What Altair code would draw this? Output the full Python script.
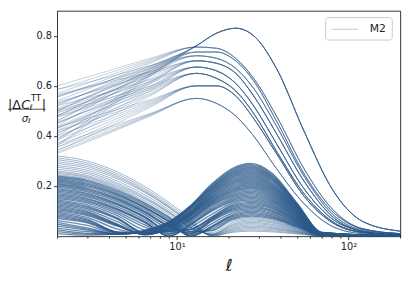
import altair as alt
import pandas as pd

COLOR = "#2c5a8a"

# ---------------- upper family: bundles (shared tails) with fanned heads ----
ELL_HEAD = [2, 4, 7]
ELL_TAIL = [13, 17, 22, 28, 38, 55, 80, 120, 200]

TAIL_A = [0.76, 0.81, 0.83, 0.80, 0.67, 0.42, 0.19, 0.06, 0.02]
TAIL_B = [0.755, 0.75, 0.71, 0.63, 0.48, 0.27, 0.11, 0.03, 0.01]
TAIL_C = [0.735, 0.735, 0.70, 0.62, 0.46, 0.25, 0.10, 0.03, 0.01]
TAIL_D = [0.72, 0.71, 0.67, 0.59, 0.44, 0.24, 0.09, 0.025, 0.01]
TAIL_E = [0.70, 0.69, 0.65, 0.56, 0.41, 0.22, 0.08, 0.02, 0.005]
TAIL_F = [0.675, 0.66, 0.61, 0.52, 0.37, 0.19, 0.07, 0.02, 0.005]
TAIL_G = [0.65, 0.63, 0.58, 0.49, 0.34, 0.17, 0.06, 0.015, 0.004]
TAIL_H = [0.60, 0.60, 0.56, 0.47, 0.33, 0.16, 0.055, 0.015, 0.004]
TAIL_I = [0.55, 0.53, 0.48, 0.40, 0.27, 0.13, 0.04, 0.01, 0.003]

HEADS_A = [[0.36, 0.51, 0.64], [0.38, 0.52, 0.645], [0.40, 0.53, 0.65], [0.44, 0.56, 0.66],
           [0.46, 0.57, 0.665], [0.48, 0.58, 0.67], [0.50, 0.595, 0.675], [0.52, 0.61, 0.68]]
HEADS_B = [[0.54, 0.62, 0.69], [0.555, 0.63, 0.695], [0.57, 0.64, 0.70], [0.585, 0.65, 0.705],
           [0.60, 0.66, 0.71]]
HEADS_C = [[0.46, 0.56, 0.64], [0.48, 0.575, 0.65], [0.50, 0.59, 0.66], [0.525, 0.605, 0.67],
           [0.555, 0.62, 0.68]]
HEADS_D = [[0.49, 0.575, 0.645], [0.51, 0.59, 0.655], [0.53, 0.60, 0.66], [0.56, 0.62, 0.67],
           [0.585, 0.635, 0.68]]
HEADS_E = [[0.42, 0.52, 0.61], [0.435, 0.53, 0.615], [0.45, 0.54, 0.62], [0.48, 0.56, 0.63],
           [0.505, 0.575, 0.64], [0.535, 0.595, 0.648], [0.565, 0.615, 0.655]]
HEADS_F = [[0.39, 0.495, 0.58], [0.41, 0.51, 0.588], [0.43, 0.52, 0.595], [0.45, 0.535, 0.60],
           [0.475, 0.55, 0.61], [0.50, 0.562, 0.618], [0.52, 0.575, 0.625]]
HEADS_G = [[0.37, 0.475, 0.56], [0.39, 0.49, 0.565], [0.41, 0.50, 0.57], [0.43, 0.515, 0.578],
           [0.455, 0.53, 0.585], [0.475, 0.54, 0.592], [0.495, 0.55, 0.60]]
HEADS_H = [[0.34, 0.435, 0.515], [0.355, 0.445, 0.52], [0.37, 0.455, 0.525], [0.385, 0.465, 0.53],
           [0.40, 0.475, 0.535], [0.42, 0.485, 0.54], [0.435, 0.495, 0.545]]
HEADS_I = [[0.33, 0.41, 0.48], [0.335, 0.415, 0.482], [0.345, 0.42, 0.485], [0.355, 0.428, 0.488],
           [0.365, 0.435, 0.49]]

BUNDLES = [
    (HEADS_A, TAIL_A), (HEADS_B, TAIL_B), (HEADS_C, TAIL_C), (HEADS_D, TAIL_D),
    (HEADS_E, TAIL_E), (HEADS_F, TAIL_F), (HEADS_G, TAIL_G), (HEADS_H, TAIL_H),
    (HEADS_I, TAIL_I),
]

# ---------------- lower family: |dC| that dips to zero and re-peaks ----------
ELL_LOW = [2, 3, 4.5, 6.5, 9, 12, 16, 21, 27, 36, 50, 70, 200]
# the widely spread top of the lower family (lighter in the picture)
LOW_TOP = [
    [0.32, 0.30, 0.256, 0.198, 0.134, 0.07, 0.0, 0.015, 0.02, 0.017, 0.009, 0.001, 0],
    [0.312, 0.292, 0.248, 0.19, 0.126, 0.062, 0.0, 0.018, 0.025, 0.021, 0.011, 0.001, 0],
    [0.305, 0.285, 0.241, 0.183, 0.119, 0.055, 0.003, 0.022, 0.03, 0.026, 0.014, 0.002, 0],
    [0.297, 0.278, 0.235, 0.178, 0.116, 0.053, 0.003, 0.026, 0.035, 0.03, 0.016, 0.002, 0],
    [0.29, 0.271, 0.229, 0.174, 0.113, 0.052, 0.004, 0.03, 0.04, 0.034, 0.018, 0.002, 0],
    [0.282, 0.263, 0.22, 0.165, 0.105, 0.044, 0.006, 0.034, 0.045, 0.038, 0.02, 0.002, 0],
    [0.275, 0.256, 0.212, 0.157, 0.098, 0.036, 0.008, 0.039, 0.05, 0.043, 0.023, 0.003, 0],
    [0.267, 0.249, 0.206, 0.152, 0.095, 0.035, 0.008, 0.043, 0.055, 0.047, 0.025, 0.003, 0],
    [0.26, 0.242, 0.20, 0.148, 0.092, 0.034, 0.009, 0.047, 0.06, 0.052, 0.028, 0.003, 0],
    [0.255, 0.237, 0.195, 0.141, 0.085, 0.026, 0.015, 0.053, 0.065, 0.056, 0.03, 0.003, 0],
    [0.25, 0.233, 0.19, 0.135, 0.078, 0.018, 0.021, 0.06, 0.07, 0.06, 0.032, 0.004, 0],
    [0.245, 0.228, 0.186, 0.132, 0.076, 0.017, 0.022, 0.064, 0.075, 0.064, 0.034, 0.004, 0],
]
# the dense core of the lower family
LOW_CORE = [
    [0.24, 0.223, 0.182, 0.13, 0.074, 0.017, 0.024, 0.068, 0.08, 0.069, 0.037, 0.004, 0],
    [0.235, 0.218, 0.176, 0.124, 0.067, 0.008, 0.03, 0.072, 0.085, 0.073, 0.039, 0.004, 0],
    [0.23, 0.212, 0.17, 0.117, 0.06, 0.0, 0.036, 0.077, 0.09, 0.077, 0.041, 0.005, 0],
    [0.225, 0.207, 0.166, 0.114, 0.058, 0.0, 0.038, 0.081, 0.095, 0.081, 0.043, 0.005, 0],
    [0.22, 0.202, 0.163, 0.112, 0.057, 0.0, 0.04, 0.085, 0.10, 0.086, 0.046, 0.005, 0],
    [0.215, 0.197, 0.157, 0.105, 0.048, 0.005, 0.05, 0.092, 0.105, 0.09, 0.048, 0.005, 0],
    [0.21, 0.191, 0.151, 0.098, 0.04, 0.011, 0.06, 0.099, 0.11, 0.095, 0.051, 0.006, 0],
    [0.205, 0.187, 0.148, 0.096, 0.039, 0.011, 0.063, 0.104, 0.115, 0.099, 0.053, 0.006, 0],
    [0.20, 0.182, 0.144, 0.093, 0.038, 0.012, 0.066, 0.108, 0.12, 0.103, 0.055, 0.006, 0],
    [0.195, 0.177, 0.138, 0.086, 0.03, 0.019, 0.069, 0.112, 0.125, 0.108, 0.058, 0.006, 0],
    [0.19, 0.171, 0.131, 0.078, 0.021, 0.026, 0.072, 0.117, 0.13, 0.112, 0.06, 0.007, 0],
    [0.185, 0.167, 0.128, 0.076, 0.02, 0.027, 0.075, 0.121, 0.135, 0.116, 0.062, 0.007, 0],
    [0.18, 0.162, 0.124, 0.074, 0.02, 0.028, 0.077, 0.126, 0.14, 0.12, 0.064, 0.007, 0],
    [0.175, 0.157, 0.117, 0.066, 0.01, 0.036, 0.088, 0.132, 0.145, 0.125, 0.066, 0.007, 0],
    [0.17, 0.151, 0.11, 0.058, 0.0, 0.045, 0.10, 0.138, 0.15, 0.129, 0.069, 0.008, 0],
    [0.165, 0.147, 0.107, 0.056, 0.0, 0.046, 0.104, 0.142, 0.155, 0.134, 0.071, 0.008, 0],
    [0.16, 0.142, 0.104, 0.054, 0.0, 0.048, 0.109, 0.147, 0.16, 0.138, 0.074, 0.008, 0],
    [0.155, 0.137, 0.097, 0.045, 0.006, 0.054, 0.115, 0.152, 0.165, 0.142, 0.076, 0.008, 0],
    [0.15, 0.132, 0.09, 0.036, 0.012, 0.06, 0.122, 0.158, 0.17, 0.146, 0.078, 0.009, 0],
    [0.145, 0.125, 0.082, 0.025, 0.017, 0.064, 0.126, 0.162, 0.175, 0.15, 0.08, 0.009, 0],
    [0.14, 0.119, 0.073, 0.014, 0.022, 0.068, 0.13, 0.167, 0.18, 0.155, 0.083, 0.009, 0],
    [0.135, 0.115, 0.07, 0.013, 0.022, 0.07, 0.133, 0.172, 0.185, 0.159, 0.085, 0.009, 0],
    [0.13, 0.11, 0.068, 0.013, 0.023, 0.072, 0.137, 0.177, 0.19, 0.163, 0.087, 0.01, 0],
    [0.125, 0.104, 0.058, 0.009, 0.026, 0.076, 0.14, 0.181, 0.195, 0.168, 0.09, 0.01, 0],
    [0.12, 0.098, 0.048, 0.006, 0.03, 0.08, 0.144, 0.186, 0.20, 0.172, 0.092, 0.01, 0],
    [0.115, 0.094, 0.046, 0.006, 0.031, 0.082, 0.147, 0.19, 0.205, 0.176, 0.094, 0.01, 0],
    [0.11, 0.09, 0.044, 0.006, 0.032, 0.084, 0.151, 0.195, 0.21, 0.181, 0.097, 0.011, 0],
    [0.105, 0.086, 0.042, 0.006, 0.032, 0.086, 0.155, 0.2, 0.215, 0.185, 0.099, 0.011, 0],
    [0.10, 0.082, 0.04, 0.007, 0.033, 0.088, 0.158, 0.205, 0.22, 0.189, 0.101, 0.011, 0],
    [0.095, 0.075, 0.028, 0.009, 0.037, 0.09, 0.162, 0.21, 0.225, 0.194, 0.104, 0.011, 0],
    [0.09, 0.068, 0.017, 0.012, 0.041, 0.092, 0.166, 0.214, 0.23, 0.198, 0.106, 0.012, 0],
    [0.085, 0.064, 0.016, 0.012, 0.042, 0.094, 0.17, 0.219, 0.235, 0.202, 0.108, 0.012, 0],
    [0.08, 0.06, 0.015, 0.012, 0.043, 0.096, 0.173, 0.223, 0.24, 0.206, 0.11, 0.012, 0],
    [0.075, 0.056, 0.014, 0.012, 0.044, 0.098, 0.176, 0.228, 0.245, 0.21, 0.112, 0.012, 0],
    [0.07, 0.053, 0.013, 0.013, 0.045, 0.10, 0.18, 0.233, 0.25, 0.215, 0.115, 0.013, 0],
    [0.062, 0.043, 0.01, 0.015, 0.048, 0.104, 0.183, 0.237, 0.255, 0.22, 0.117, 0.013, 0],
    [0.055, 0.033, 0.008, 0.018, 0.052, 0.109, 0.187, 0.242, 0.26, 0.224, 0.12, 0.013, 0],
    [0.048, 0.028, 0.008, 0.018, 0.053, 0.111, 0.19, 0.246, 0.265, 0.228, 0.122, 0.013, 0],
    [0.04, 0.024, 0.008, 0.019, 0.054, 0.113, 0.194, 0.251, 0.27, 0.232, 0.124, 0.014, 0],
    [0.032, 0.018, 0.008, 0.02, 0.055, 0.115, 0.197, 0.255, 0.275, 0.236, 0.126, 0.014, 0],
    [0.025, 0.011, 0.008, 0.022, 0.056, 0.118, 0.20, 0.26, 0.28, 0.24, 0.129, 0.014, 0],
    [0.018, 0.008, 0.008, 0.022, 0.057, 0.12, 0.205, 0.265, 0.285, 0.245, 0.131, 0.015, 0],
    [0.01, 0.004, 0.009, 0.023, 0.058, 0.122, 0.209, 0.27, 0.29, 0.25, 0.133, 0.015, 0],
]

X_TICKS = [2, 3, 4, 5, 6, 7, 8, 9, 10, 20, 30, 40, 50, 60, 70, 80, 90, 100, 200]
Y_TICKS = [0.2, 0.4, 0.6, 0.8]
LEGEND_LABEL = "M2"

# ---------------- assemble long tables ----------------
lid = 0
up_rows = []
for heads, tail in BUNDLES:
    for head in heads:
        for e, v in zip(ELL_HEAD + ELL_TAIL, head + tail):
            up_rows.append({"line": lid, "ell": e, "val": v})
        lid += 1
top_rows = []
for vals in LOW_TOP:
    for e, v in zip(ELL_LOW, vals):
        top_rows.append({"line": lid, "ell": e, "val": v})
    lid += 1
core_rows = []
for vals in LOW_CORE:
    for e, v in zip(ELL_LOW, vals):
        core_rows.append({"line": lid, "ell": e, "val": v})
    lid += 1
df_up = pd.DataFrame(up_rows)
df_top = pd.DataFrame(top_rows)
df_core = pd.DataFrame(core_rows)

x_axis = alt.Axis(
    values=X_TICKS,
    labelExpr="datum.value == 10 ? '10\u00b9' : (datum.value == 100 ? '10\u00b2' : '')",
    labelOverlap=False, labelFlush=False,
    tickSize={"condition": {"test": "datum.value == 10 || datum.value == 100", "value": 3.5}, "value": 2},
    labelPadding=2, labelFontSize=10, labelFont="DejaVu Sans", labelColor="#222222",
    tickColor="#333333", grid=False, domain=False,
    title="\u2113", titleFont="DejaVu Sans", titleFontSize=17, titleFontStyle="italic",
    titleFontWeight="normal", titleColor="#222222", titlePadding=7,
)
y_axis = alt.Axis(
    values=Y_TICKS, format=".1f", tickSize=3.5, labelPadding=2,
    labelFontSize=10, labelFont="DejaVu Sans", labelColor="#222222",
    tickColor="#333333", grid=False, domain=False, title=None,
)
X = alt.X("ell:Q", scale=alt.Scale(type="log", domain=[2, 200], nice=False), axis=x_axis)
Y = alt.Y("val:Q", scale=alt.Scale(domain=[0, 0.9], nice=False, zero=False), axis=y_axis)

lines_core = alt.Chart(df_core).mark_line(
    interpolate="monotone", clip=True, strokeWidth=1.4, opacity=0.7, color=COLOR
).encode(x=X, y=Y, detail="line:N")

lines_top = alt.Chart(df_top).mark_line(
    interpolate="monotone", clip=True, strokeWidth=1.0, opacity=0.45, color=COLOR
).encode(x=X, y=Y, detail="line:N")

lines_up = alt.Chart(df_up).mark_line(
    interpolate="monotone", clip=True, strokeWidth=0.8, opacity=0.35, color=COLOR
).encode(x=X, y=Y, detail="line:N")

one = pd.DataFrame({"k": [0]})
base = alt.Chart(one)
TXT = "#222222"

# y-axis label drawn as a fraction |ΔC_ℓ^TT| / σ_ℓ
t1 = base.mark_text(text="|\u0394", fontSize=13, font="DejaVu Sans", align="left", color=TXT).encode(
    x=alt.value(-50), y=alt.value(96))
t2 = base.mark_text(text="C", fontSize=13, font="DejaVu Sans", fontStyle="italic", align="left", color=TXT).encode(
    x=alt.value(-36.5), y=alt.value(96))
t3 = base.mark_text(text="TT", fontSize=8.5, font="DejaVu Sans", align="left", color=TXT).encode(
    x=alt.value(-26.5), y=alt.value(89))
t4 = base.mark_text(text="\u2113", fontSize=8, font="DejaVu Sans", fontStyle="italic", align="left", color=TXT).encode(
    x=alt.value(-28), y=alt.value(99))
t5 = base.mark_text(text="|", fontSize=13, font="DejaVu Sans", align="left", color=TXT).encode(
    x=alt.value(-15.5), y=alt.value(96))
bar = base.mark_rule(color=TXT, strokeWidth=0.8).encode(
    x=alt.value(-50), x2=alt.value(-11.5), y=alt.value(100.5))
t6 = base.mark_text(text="\u03c3", fontSize=10.5, font="DejaVu Sans", fontStyle="italic", align="left", color=TXT).encode(
    x=alt.value(-36), y=alt.value(111))
t7 = base.mark_text(text="\u2113", fontSize=7, font="DejaVu Sans", fontStyle="italic", align="left", color=TXT).encode(
    x=alt.value(-29.5), y=alt.value(113))

# legend box
leg_box = base.mark_rect(fill="white", fillOpacity=0.8, stroke="#cccccc", strokeWidth=1, cornerRadius=3).encode(
    x=alt.value(274), x2=alt.value(342), y=alt.value(7), y2=alt.value(30))
leg_line = base.mark_rule(color=COLOR, strokeWidth=1, opacity=0.3).encode(
    x=alt.value(280), x2=alt.value(307), y=alt.value(19))
leg_text = base.mark_text(text=LEGEND_LABEL, fontSize=11, font="DejaVu Sans", align="left",
                          baseline="middle", color=TXT).encode(
    x=alt.value(319), y=alt.value(19))

chart = alt.layer(
    lines_core, lines_top, lines_up, t1, t2, t3, t4, t5, bar, t6, t7, leg_box, leg_line, leg_text
).properties(
    width=350, height=230,
    padding={"left": 50, "top": 0, "right": 7, "bottom": 43},
    autosize=alt.AutoSizeParams(type="none"),
).configure_view(
    stroke="#333333", strokeWidth=1
)

chart.save("out.html", embed_options={"renderer": "svg", "actions": False})
